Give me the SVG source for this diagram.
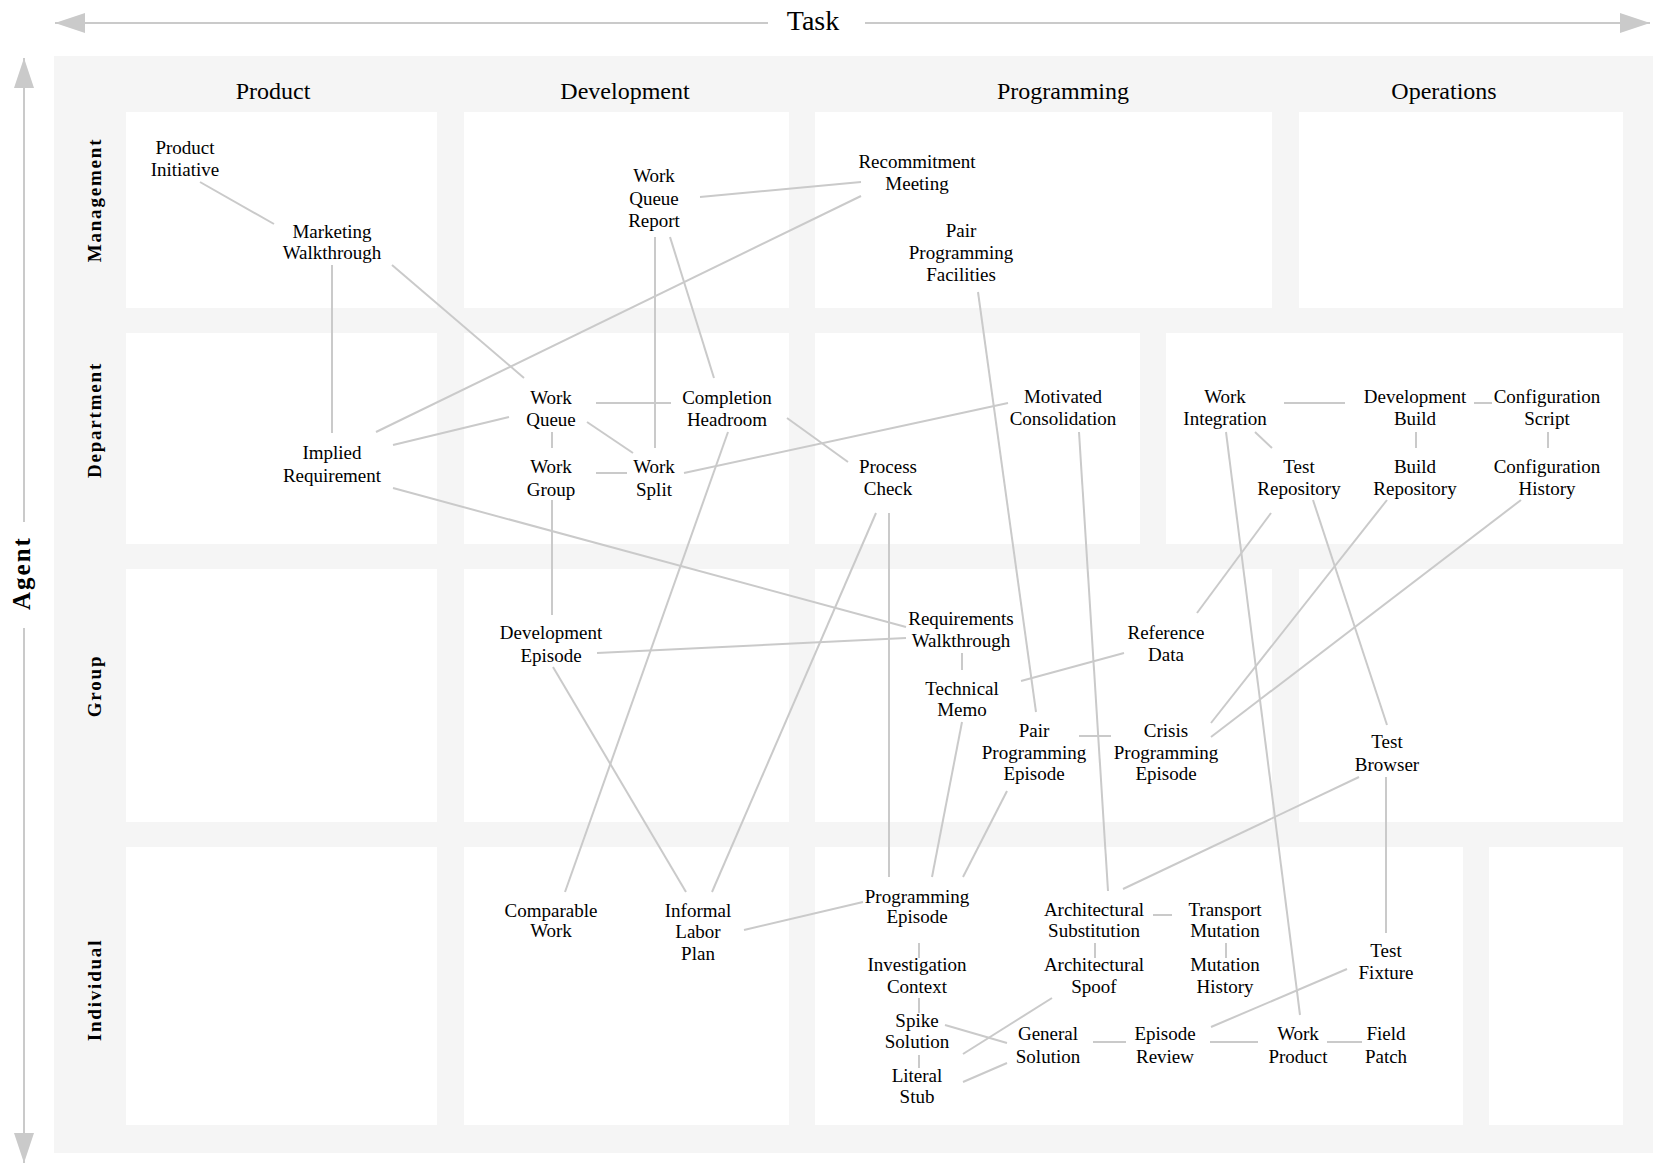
<svg xmlns="http://www.w3.org/2000/svg" width="1657" height="1164" viewBox="0 0 1657 1164">
<style>
.bg{fill:#ffffff}
.panel{fill:#f5f5f5}
.cell{fill:#ffffff}
.axis{stroke:#cacaca;stroke-width:2;fill:none}
.c{stroke:#cacaca;stroke-width:2;fill:none;stroke-linecap:butt}
.n{font-family:"Liberation Serif","Times New Roman",serif;font-size:19px;text-anchor:middle;fill:#000000}
.hdr{font-family:"Liberation Serif","Times New Roman",serif;font-size:24px;text-anchor:middle;fill:#000000}
.row{font-family:"Liberation Serif","Times New Roman",serif;font-size:19px;font-weight:bold;letter-spacing:1.8px;text-anchor:middle;fill:#000000}
.ax{font-family:"Liberation Serif","Times New Roman",serif;fill:#000000;text-anchor:middle}
</style>
<defs>
<marker id="ah" viewBox="0 0 30 20" refX="30" refY="10" markerWidth="30" markerHeight="20" markerUnits="userSpaceOnUse" orient="auto">
<path d="M0,0 L30,10 L0,20 z" fill="#cacaca"/>
</marker>
</defs>
<rect class="bg" x="0" y="0" width="1657" height="1164"/>
<g id="axes">
<line class="axis" x1="768" y1="23" x2="55" y2="23" marker-end="url(#ah)"/>
<line class="axis" x1="865" y1="23" x2="1650" y2="23" marker-end="url(#ah)"/>
<text class="ax" x="813" y="30" font-size="28">Task</text>
<line class="axis" x1="24" y1="522" x2="24" y2="58" marker-end="url(#ah)"/>
<line class="axis" x1="24" y1="628" x2="24" y2="1163" marker-end="url(#ah)"/>
<text class="ax" transform="translate(30,573) rotate(-90)" font-size="25" font-weight="bold" letter-spacing="2">Agent</text>
</g>
<g id="grid">
<rect class="panel" x="54" y="56" width="1599" height="1097"/>
<rect class="cell" x="126" y="112" width="311" height="196"/>
<rect class="cell" x="464" y="112" width="325" height="196"/>
<rect class="cell" x="815" y="112" width="457" height="196"/>
<rect class="cell" x="1299" y="112" width="324" height="196"/>
<rect class="cell" x="126" y="333" width="311" height="211"/>
<rect class="cell" x="464" y="333" width="325" height="211"/>
<rect class="cell" x="815" y="333" width="325" height="211"/>
<rect class="cell" x="1166" y="333" width="457" height="211"/>
<rect class="cell" x="126" y="569" width="311" height="253"/>
<rect class="cell" x="464" y="569" width="325" height="253"/>
<rect class="cell" x="815" y="569" width="457" height="253"/>
<rect class="cell" x="1299" y="569" width="324" height="253"/>
<rect class="cell" x="126" y="847" width="311" height="278"/>
<rect class="cell" x="464" y="847" width="325" height="278"/>
<rect class="cell" x="815" y="847" width="648" height="278"/>
<rect class="cell" x="1489" y="847" width="134" height="278"/>
<text class="hdr" x="273" y="99">Product</text>
<text class="hdr" x="625" y="99">Development</text>
<text class="hdr" x="1063" y="99">Programming</text>
<text class="hdr" x="1444" y="99">Operations</text>
<text class="row" transform="translate(101,200) rotate(-90)">Management</text>
<text class="row" transform="translate(101,420) rotate(-90)">Department</text>
<text class="row" transform="translate(101,686) rotate(-90)">Group</text>
<text class="row" transform="translate(101,990) rotate(-90)">Individual</text>
</g>
<g id="connectors">
<line class="c" x1="200" y1="182" x2="274" y2="224"/>
<line class="c" x1="332" y1="265" x2="332" y2="433"/>
<line class="c" x1="392" y1="265" x2="524" y2="378"/>
<line class="c" x1="700" y1="197" x2="861" y2="182"/>
<line class="c" x1="861" y1="196" x2="376" y2="432"/>
<line class="c" x1="655" y1="237" x2="655" y2="448"/>
<line class="c" x1="670" y1="237" x2="714" y2="378"/>
<line class="c" x1="978" y1="292" x2="1036" y2="712"/>
<line class="c" x1="393" y1="445" x2="509" y2="417"/>
<line class="c" x1="596" y1="403" x2="671" y2="403"/>
<line class="c" x1="587" y1="422" x2="633" y2="453"/>
<line class="c" x1="552" y1="432" x2="552" y2="448"/>
<line class="c" x1="596" y1="473" x2="627" y2="473"/>
<line class="c" x1="684" y1="473" x2="1008" y2="403"/>
<line class="c" x1="787" y1="418" x2="848" y2="462"/>
<line class="c" x1="728" y1="432" x2="565" y2="892"/>
<line class="c" x1="393" y1="488" x2="906" y2="627"/>
<line class="c" x1="552" y1="500" x2="552" y2="615"/>
<line class="c" x1="597" y1="653" x2="906" y2="638"/>
<line class="c" x1="553" y1="667" x2="686" y2="892"/>
<line class="c" x1="876" y1="513" x2="712" y2="892"/>
<line class="c" x1="889" y1="513" x2="889" y2="877"/>
<line class="c" x1="1079" y1="432" x2="1108" y2="891"/>
<line class="c" x1="1284" y1="403" x2="1345" y2="403"/>
<line class="c" x1="1474" y1="403" x2="1492" y2="403"/>
<line class="c" x1="1416" y1="432" x2="1416" y2="448"/>
<line class="c" x1="1548" y1="432" x2="1548" y2="448"/>
<line class="c" x1="1255" y1="432" x2="1272" y2="448"/>
<line class="c" x1="1226" y1="432" x2="1300" y2="1015"/>
<line class="c" x1="1271" y1="513" x2="1197" y2="613"/>
<line class="c" x1="1313" y1="500" x2="1387" y2="725"/>
<line class="c" x1="1387" y1="500" x2="1211" y2="723"/>
<line class="c" x1="1521" y1="500" x2="1211" y2="737"/>
<line class="c" x1="962" y1="653" x2="962" y2="670"/>
<line class="c" x1="1021" y1="681" x2="1124" y2="653"/>
<line class="c" x1="1079" y1="736" x2="1111" y2="736"/>
<line class="c" x1="962" y1="722" x2="932" y2="877"/>
<line class="c" x1="1007" y1="791" x2="963" y2="877"/>
<line class="c" x1="1359" y1="777" x2="1123" y2="889"/>
<line class="c" x1="1386" y1="777" x2="1386" y2="933"/>
<line class="c" x1="744" y1="930" x2="863" y2="902"/>
<line class="c" x1="919" y1="943" x2="919" y2="958"/>
<line class="c" x1="1153" y1="915" x2="1172" y2="915"/>
<line class="c" x1="1095" y1="943" x2="1095" y2="958"/>
<line class="c" x1="1226" y1="943" x2="1226" y2="958"/>
<line class="c" x1="919" y1="998" x2="919" y2="1013"/>
<line class="c" x1="945" y1="1025" x2="1007" y2="1043"/>
<line class="c" x1="1052" y1="998" x2="963" y2="1054"/>
<line class="c" x1="919" y1="1055" x2="919" y2="1068"/>
<line class="c" x1="1007" y1="1063" x2="963" y2="1082"/>
<line class="c" x1="1093" y1="1042" x2="1126" y2="1042"/>
<line class="c" x1="1210" y1="1042" x2="1258" y2="1042"/>
<line class="c" x1="1327" y1="1042" x2="1362" y2="1042"/>
<line class="c" x1="1211" y1="1027" x2="1347" y2="969"/>
</g>
<g id="product-initiative"><text class="n" x="185" y="154"><tspan x="185">Product</tspan><tspan x="185" dy="22">Initiative</tspan></text></g>
<g id="marketing-walkthrough"><text class="n" x="332" y="238"><tspan x="332">Marketing</tspan><tspan x="332" dy="21">Walkthrough</tspan></text></g>
<g id="work-queue-report"><text class="n" x="654" y="182"><tspan x="654">Work</tspan><tspan x="654" dy="22.5">Queue</tspan><tspan x="654" dy="22.5">Report</tspan></text></g>
<g id="recommitment-meeting"><text class="n" x="917" y="168"><tspan x="917">Recommitment</tspan><tspan x="917" dy="22">Meeting</tspan></text></g>
<g id="pair-programming-facilities"><text class="n" x="961" y="237"><tspan x="961">Pair</tspan><tspan x="961" dy="22">Programming</tspan><tspan x="961" dy="22">Facilities</tspan></text></g>
<g id="work-queue"><text class="n" x="551" y="404"><tspan x="551">Work</tspan><tspan x="551" dy="22">Queue</tspan></text></g>
<g id="completion-headroom"><text class="n" x="727" y="404"><tspan x="727">Completion</tspan><tspan x="727" dy="22">Headroom</tspan></text></g>
<g id="implied-requirement"><text class="n" x="332" y="459"><tspan x="332">Implied</tspan><tspan x="332" dy="23">Requirement</tspan></text></g>
<g id="work-group"><text class="n" x="551" y="473"><tspan x="551">Work</tspan><tspan x="551" dy="23">Group</tspan></text></g>
<g id="work-split"><text class="n" x="654" y="473"><tspan x="654">Work</tspan><tspan x="654" dy="23">Split</tspan></text></g>
<g id="motivated-consolidation"><text class="n" x="1063" y="403"><tspan x="1063">Motivated</tspan><tspan x="1063" dy="22">Consolidation</tspan></text></g>
<g id="process-check"><text class="n" x="888" y="473"><tspan x="888">Process</tspan><tspan x="888" dy="22">Check</tspan></text></g>
<g id="work-integration"><text class="n" x="1225" y="403"><tspan x="1225">Work</tspan><tspan x="1225" dy="22">Integration</tspan></text></g>
<g id="development-build"><text class="n" x="1415" y="403"><tspan x="1415">Development</tspan><tspan x="1415" dy="22">Build</tspan></text></g>
<g id="configuration-script"><text class="n" x="1547" y="403"><tspan x="1547">Configuration</tspan><tspan x="1547" dy="22">Script</tspan></text></g>
<g id="test-repository"><text class="n" x="1299" y="473"><tspan x="1299">Test</tspan><tspan x="1299" dy="22">Repository</tspan></text></g>
<g id="build-repository"><text class="n" x="1415" y="473"><tspan x="1415">Build</tspan><tspan x="1415" dy="22">Repository</tspan></text></g>
<g id="configuration-history"><text class="n" x="1547" y="473"><tspan x="1547">Configuration</tspan><tspan x="1547" dy="22">History</tspan></text></g>
<g id="development-episode"><text class="n" x="551" y="639"><tspan x="551">Development</tspan><tspan x="551" dy="23">Episode</tspan></text></g>
<g id="requirements-walkthrough"><text class="n" x="961" y="625"><tspan x="961">Requirements</tspan><tspan x="961" dy="22">Walkthrough</tspan></text></g>
<g id="reference-data"><text class="n" x="1166" y="639"><tspan x="1166">Reference</tspan><tspan x="1166" dy="22">Data</tspan></text></g>
<g id="technical-memo"><text class="n" x="962" y="695"><tspan x="962">Technical</tspan><tspan x="962" dy="21">Memo</tspan></text></g>
<g id="pair-programming-episode"><text class="n" x="1034" y="737"><tspan x="1034">Pair</tspan><tspan x="1034" dy="21.5">Programming</tspan><tspan x="1034" dy="21.5">Episode</tspan></text></g>
<g id="crisis-programming-episode"><text class="n" x="1166" y="737"><tspan x="1166">Crisis</tspan><tspan x="1166" dy="21.5">Programming</tspan><tspan x="1166" dy="21.5">Episode</tspan></text></g>
<g id="test-browser"><text class="n" x="1387" y="748"><tspan x="1387">Test</tspan><tspan x="1387" dy="23">Browser</tspan></text></g>
<g id="comparable-work"><text class="n" x="551" y="917"><tspan x="551">Comparable</tspan><tspan x="551" dy="20">Work</tspan></text></g>
<g id="informal-labor-plan"><text class="n" x="698" y="917"><tspan x="698">Informal</tspan><tspan x="698" dy="21">Labor</tspan><tspan x="698" dy="22">Plan</tspan></text></g>
<g id="programming-episode"><text class="n" x="917" y="903"><tspan x="917">Programming</tspan><tspan x="917" dy="20">Episode</tspan></text></g>
<g id="architectural-substitution"><text class="n" x="1094" y="916"><tspan x="1094">Architectural</tspan><tspan x="1094" dy="21">Substitution</tspan></text></g>
<g id="transport-mutation"><text class="n" x="1225" y="916"><tspan x="1225">Transport</tspan><tspan x="1225" dy="21">Mutation</tspan></text></g>
<g id="investigation-context"><text class="n" x="917" y="971"><tspan x="917">Investigation</tspan><tspan x="917" dy="22">Context</tspan></text></g>
<g id="architectural-spoof"><text class="n" x="1094" y="971"><tspan x="1094">Architectural</tspan><tspan x="1094" dy="22">Spoof</tspan></text></g>
<g id="mutation-history"><text class="n" x="1225" y="971"><tspan x="1225">Mutation</tspan><tspan x="1225" dy="22">History</tspan></text></g>
<g id="test-fixture"><text class="n" x="1386" y="957"><tspan x="1386">Test</tspan><tspan x="1386" dy="22">Fixture</tspan></text></g>
<g id="spike-solution"><text class="n" x="917" y="1027"><tspan x="917">Spike</tspan><tspan x="917" dy="21">Solution</tspan></text></g>
<g id="general-solution"><text class="n" x="1048" y="1040"><tspan x="1048">General</tspan><tspan x="1048" dy="23">Solution</tspan></text></g>
<g id="episode-review"><text class="n" x="1165" y="1040"><tspan x="1165">Episode</tspan><tspan x="1165" dy="23">Review</tspan></text></g>
<g id="work-product"><text class="n" x="1298" y="1040"><tspan x="1298">Work</tspan><tspan x="1298" dy="23">Product</tspan></text></g>
<g id="field-patch"><text class="n" x="1386" y="1040"><tspan x="1386">Field</tspan><tspan x="1386" dy="23">Patch</tspan></text></g>
<g id="literal-stub"><text class="n" x="917" y="1082"><tspan x="917">Literal</tspan><tspan x="917" dy="21">Stub</tspan></text></g>
</svg>
